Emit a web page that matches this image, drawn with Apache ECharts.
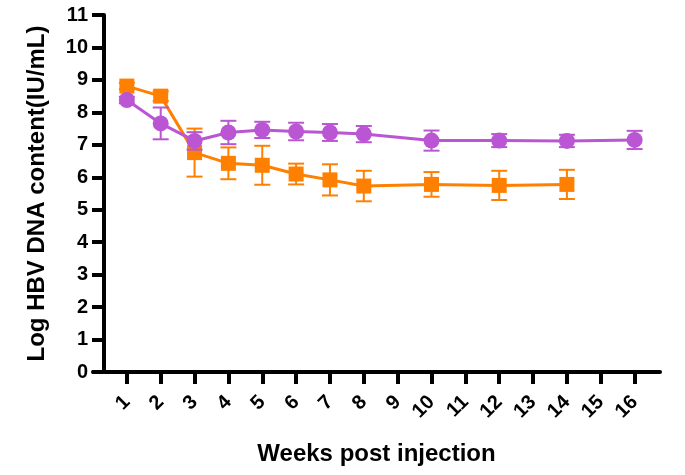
<!DOCTYPE html>
<html>
<head>
<meta charset="utf-8">
<script src="https://cdn.jsdelivr.net/npm/echarts@6/dist/echarts.min.js"></script>
<style>
  html, body { margin: 0; padding: 0; background: #fff; }
  #chart { width: 685px; height: 475px; }
</style>
</head>
<body>
<div id="chart"></div>
<script>
// weeks shown on x axis
var weekTicks = [1, 2, 3, 4, 5, 6, 7, 8, 9, 10, 11, 12, 13, 14, 15, 16];

// purple group (circles)
var purpleWeeks = [1, 2, 3, 4, 5, 6, 7, 8, 10, 12, 14, 16];
var purpleMean = [8.38, 7.66, 7.12, 7.38, 7.46, 7.41, 7.38, 7.33, 7.13, 7.13, 7.12, 7.15];
var purpleErr = [0.10, 0.49, 0.27, 0.36, 0.25, 0.27, 0.26, 0.25, 0.31, 0.2, 0.19, 0.28];

// orange group (squares)
var orangeWeeks = [1, 2, 3, 4, 5, 6, 7, 8, 10, 12, 14];
var orangeMean = [8.81, 8.5, 6.76, 6.43, 6.37, 6.1, 5.92, 5.73, 5.78, 5.75, 5.78];
var orangeErr = [0.1, 0.15, 0.74, 0.49, 0.6, 0.32, 0.48, 0.47, 0.38, 0.45, 0.45];

var PURPLE = "#BA55D3";
var ORANGE = "#FF8000";
var FONT = "Liberation Sans";

function pairs(xs, ys) {
  return xs.map(function (x, i) { return [x, ys[i]]; });
}
function errData(xs, ys, es) {
  return xs.map(function (x, i) { return [x, ys[i] - es[i], ys[i] + es[i]]; });
}
// error bars with caps
function errSeries(data, color, z) {
  return {
    type: "custom",
    z: z,
    silent: true,
    data: data,
    encode: { x: 0, y: [1, 2] },
    renderItem: function (params, api) {
      var lo = api.coord([api.value(0), api.value(1)]);
      var hi = api.coord([api.value(0), api.value(2)]);
      var w = 8;
      var st = { stroke: color, lineWidth: 2 };
      return {
        type: "group",
        children: [
          { type: "line", shape: { x1: lo[0], y1: lo[1], x2: hi[0], y2: hi[1] }, style: st },
          { type: "line", shape: { x1: lo[0] - w, y1: lo[1], x2: lo[0] + w, y2: lo[1] }, style: st },
          { type: "line", shape: { x1: hi[0] - w, y1: hi[1], x2: hi[0] + w, y2: hi[1] }, style: st },
        ],
      };
    },
  };
}

var myChart = echarts.init(document.getElementById("chart"));
myChart.setOption({
  animation: false,
  grid: { left: 93, right: 25, top: 15, bottom: 103, containLabel: false },
  xAxis: {
    type: "value",
    min: 0,
    max: 16.75,
    name: "Weeks post injection",
    nameLocation: "middle",
    nameGap: 70,
    nameTextStyle: { fontFamily: FONT, fontWeight: "bold", fontSize: 24, color: "#000" },
    splitLine: { show: false },
    axisLine: { onZero: false, lineStyle: { color: "#000", width: 4 } },
    axisTick: { customValues: weekTicks, length: 12, lineStyle: { color: "#000", width: 4 } },
    axisLabel: {
      customValues: weekTicks,
      rotate: 45,
      margin: 27,
      fontFamily: FONT,
      fontWeight: "bold",
      fontSize: 20,
      color: "#000",
    },
  },
  yAxis: {
    type: "value",
    min: 0,
    max: 11,
    interval: 1,
    offset: -11,
    name: "Log HBV DNA content(IU/mL)",
    nameLocation: "middle",
    nameGap: 55,
    nameTextStyle: { fontFamily: FONT, fontWeight: "bold", fontSize: 24, color: "#000" },
    splitLine: { show: false },
    axisLine: { show: true, onZero: false, lineStyle: { color: "#000", width: 4 } },
    axisTick: { show: true, length: 12, lineStyle: { color: "#000", width: 4 } },
    axisLabel: { margin: 16, fontFamily: FONT, fontWeight: "bold", fontSize: 20, color: "#000" },
  },
  series: [
    errSeries(errData(orangeWeeks, orangeMean, orangeErr), ORANGE, 2),
    {
      type: "line",
      z: 3,
      data: pairs(orangeWeeks, orangeMean),
      symbol: "rect",
      symbolSize: 15,
      lineStyle: { color: ORANGE, width: 3 },
      itemStyle: { color: ORANGE },
    },
    errSeries(errData(purpleWeeks, purpleMean, purpleErr), PURPLE, 4),
    {
      type: "line",
      z: 5,
      data: pairs(purpleWeeks, purpleMean),
      symbol: "circle",
      symbolSize: 16,
      lineStyle: { color: PURPLE, width: 3 },
      itemStyle: { color: PURPLE },
    },
  ],
});
</script>
</body>
</html>
